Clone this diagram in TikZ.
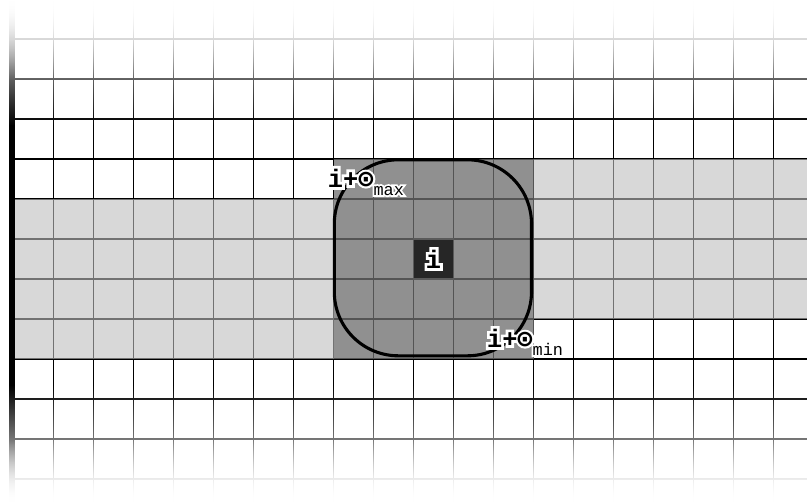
\documentclass[tikz,border=0pt]{standalone}
\usepackage{fontspec}
\usetikzlibrary{fadings}
\setmonofont{Liberation Mono}
\newfontfamily\dotfont{DejaVu Sans Mono}
\newfontfamily\halobold{Liberation Mono Bold}[FakeBold=22]
\newfontfamily\halomono{Liberation Mono}[FakeBold=22]
\newfontfamily\halodot{DejaVu Sans Mono}[FakeBold=22]
\definecolor{bandGray}{RGB}{190,190,190}
\definecolor{coreGray}{RGB}{110,110,110}
\definecolor{cellDark}{RGB}{38,38,38}
\definecolor{cellEdge}{RGB}{90,90,90}
\tikzfading[name=fadetop, top color=transparent!0, bottom color=transparent!100]
\tikzfading[name=fadebottom, top color=transparent!100, bottom color=transparent!0]
\newcommand{\subtxt}[1]{\raisebox{-0.6ex}{\fontsize{12pt}{12pt}\selectfont #1}}
\newcommand{\offlabel}[1]{%
  \makebox[0pt][l]{\color{white}\halobold i+{\halodot ⊙}\subtxt{\halomono #1}}%
  \ttfamily\bfseries i+{\dotfont ⊙}\subtxt{\mdseries #1}}

\begin{document}
\begin{tikzpicture}[
    gridline/.style={line width=1.3pt, draw=black},
    band/.style={fill=bandGray, fill opacity=0.6},
    core/.style={fill=coreGray, fill opacity=0.77},
    reach/.style={line width=2.2pt, draw=black, rounded corners=1.6cm},
    cell/.style={fill=cellDark, draw=cellEdge, line width=1.3pt, minimum size=1cm, inner sep=0pt, font=\fontsize{18pt}{18pt}\selectfont},
    offset/.style={inner sep=0pt, font=\fontsize{18pt}{18pt}\selectfont},
    edgebar/.style={line width=3.8pt, draw=black},
    fadeout/.style={fill=white, path fading=#1}
]
    \useasboundingbox (-0.3375,-11.575) rectangle (19.8375,0.975);

    % grid
    \foreach \x in {0,...,19}
        \draw[gridline] (\x,0.975) -- (\x,-11.575);
    \foreach \y in {0,...,11}
        \draw[gridline] (0,-\y) -- (19.8375,-\y);

    % shaded cells
    \fill[band] (0,-4) rectangle (8,-8);
    \fill[band] (13,-3) rectangle (19.8375,-7);
    \fill[core] (8,-3) rectangle (13,-8);

    \node[cell] (centre) at (10.5,-5.5) {\makebox[0pt][l]{\color{white}\halobold i}\ttfamily\bfseries i};
    \draw[reach] (8.02,-3.02) rectangle (12.95,-7.92);

    \node[offset] (offmax) at (8.81,-3.575) {\offlabel{max}};
    \node[offset] (offmin) at (12.79,-7.575) {\offlabel{min}};

    \draw[edgebar] (-0.0375,0.975) -- (-0.0375,-11.575);

    % fade out top and bottom
    \fill[fadeout=fadetop] (-0.5,0.975) rectangle (20.3,-2.15);
    \fill[fadeout=fadetop] (-0.5,0.975) rectangle (20.3,-1.025);
    \fill[fadeout=fadebottom] (-0.5,-8.65) rectangle (20.3,-11.575);
    \fill[fadeout=fadebottom] (-0.5,-10.025) rectangle (20.3,-11.575);
\end{tikzpicture}
\end{document}
